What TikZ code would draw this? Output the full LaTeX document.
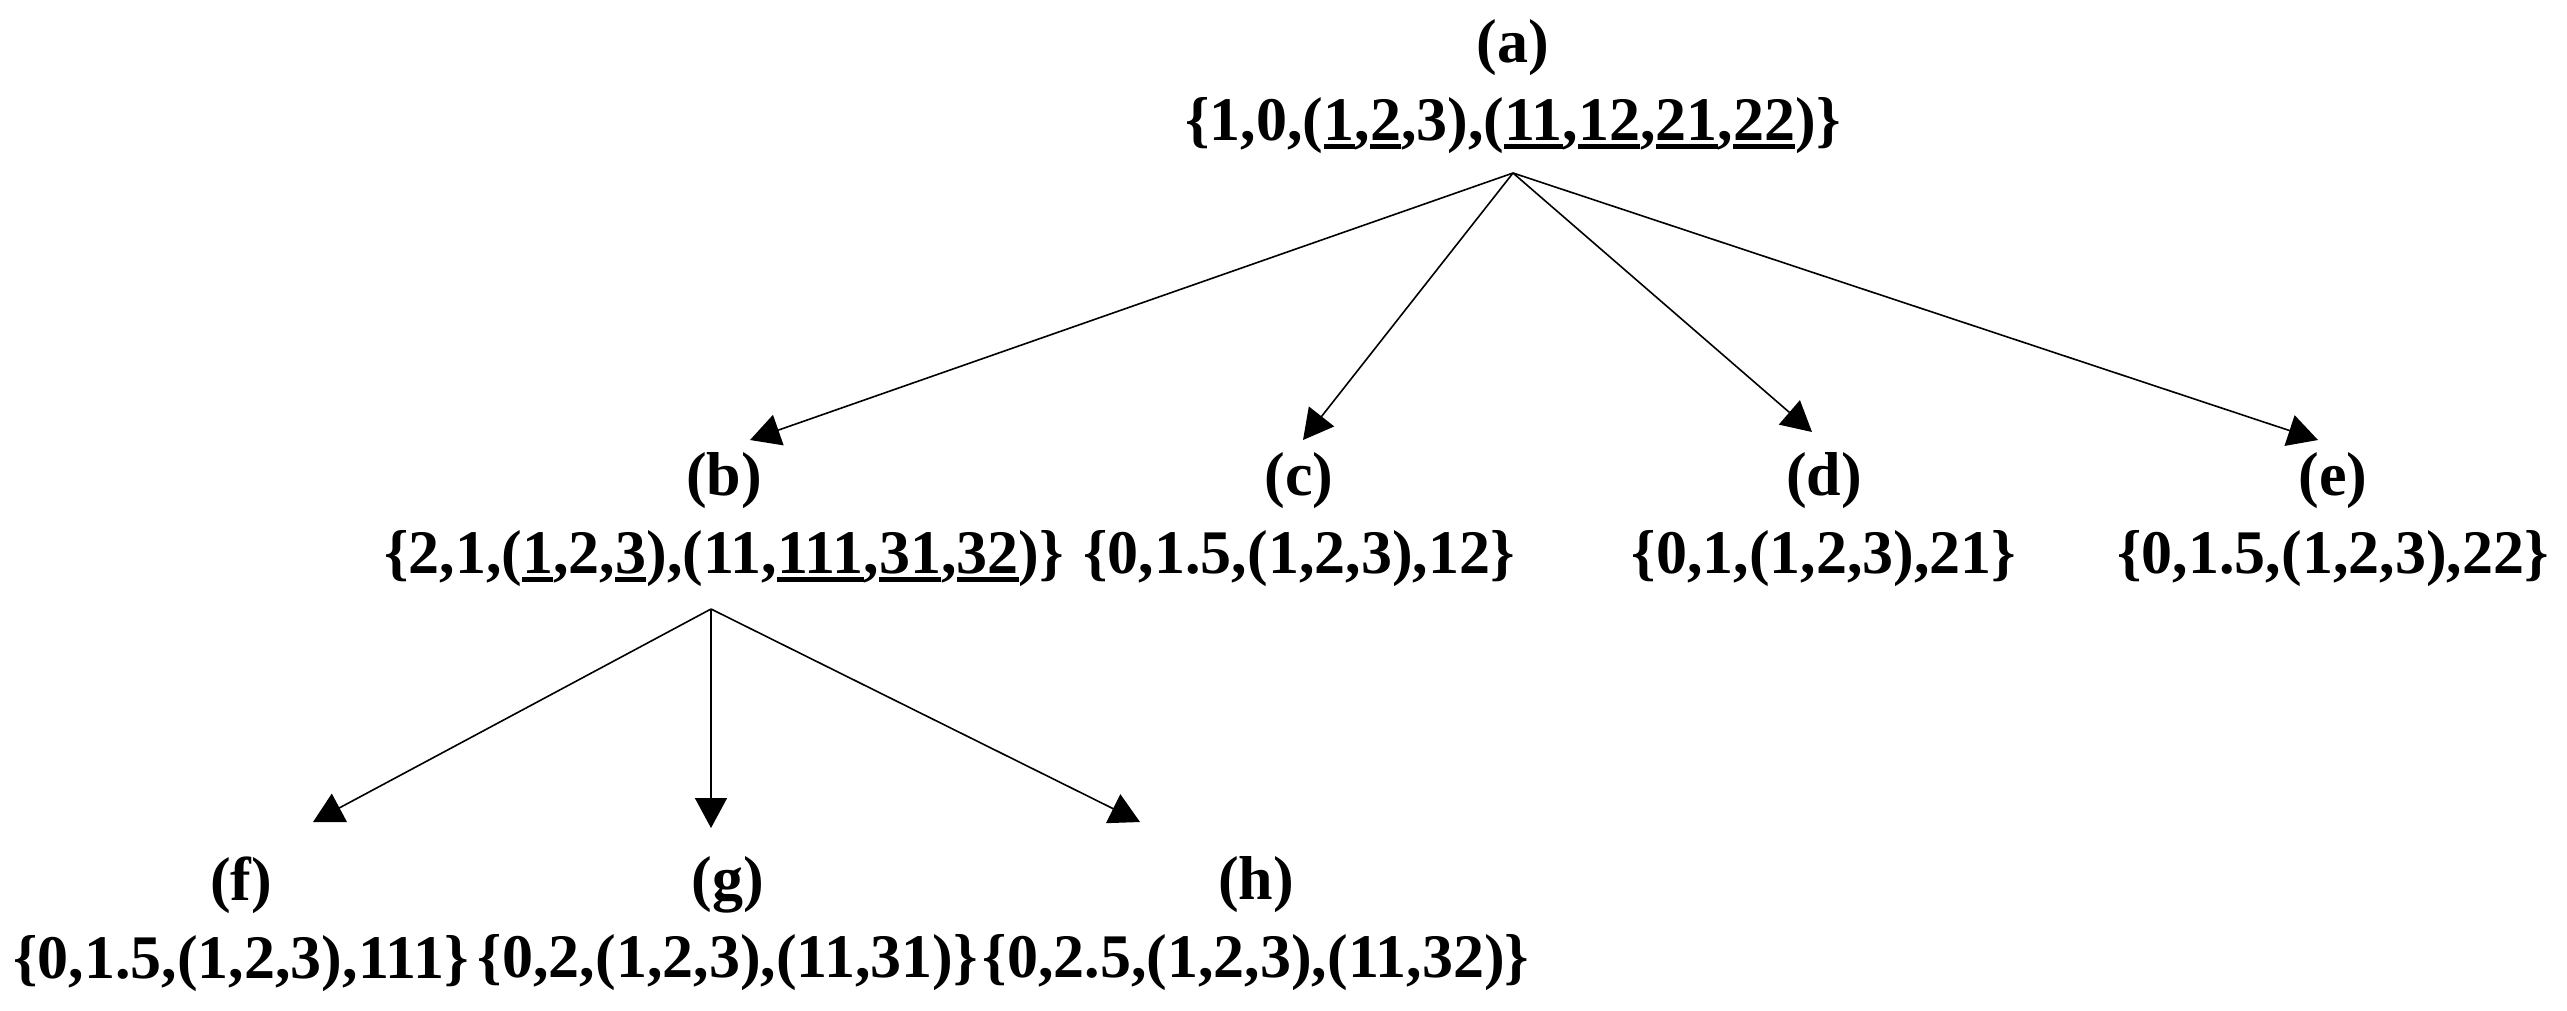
\documentclass[tikz,border=0pt]{standalone}
\usepackage{fontspec}
\setmainfont{Liberation Serif}
\usetikzlibrary{arrows.meta}
\newlength{\ulw}
\newcommand{\myul}[1]{\settowidth{\ulw}{#1}\leavevmode\rlap{\rule[-1.9pt]{\ulw}{1.2pt}}#1}
\tikzset{
  lab/.style={inner sep=0pt, align=center, font=\bfseries\fontsize{15.5}{19.5}\selectfont},
  conn/.style={line width=0.4pt, -{Triangle[length=7.5pt,width=8pt]}}
}
\begin{document}
\begin{tikzpicture}[x=0.25pt,y=-0.25pt]
\useasboundingbox (0,0) rectangle (2567,1010);
\node[lab] (a) at (1513,87) {(a)\\\{1,0,(\myul{1},\myul{2},3),(\myul{11},\myul{12},\myul{21},\myul{22})\}};
\node[lab] (b) at (724,520) {(b)\\\{2,1,(\myul{1},2,\myul{3}),(11,\myul{111},\myul{31},\myul{32})\}};
\node[lab] (c) at (1299,520) {(c)\\\{0,1.5,(1,2,3),12\}};
\node[lab] (d) at (1824,520) {(d)\\\{0,1,(1,2,3),21\}};
\node[lab] (e) at (2333,520) {(e)\\\{0,1.5,(1,2,3),22\}};
\node[lab] (f) at (241,924) {(f)\\\{0,1.5,(1,2,3),111\}};
\node[lab] (g) at (728,924) {(g)\\\{0,2,(1,2,3),(11,31)\}};
\node[lab] (h) at (1256,924) {(h)\\\{0,2.5,(1,2,3),(11,32)\}};
\coordinate (aout) at (1513,173);
\coordinate (bout) at (711,609);
\coordinate (bin) at (750,440);
\coordinate (cin) at (1303,440);
\coordinate (din) at (1812,432);
\coordinate (ein) at (2318,440);
\coordinate (fin) at (313,822);
\coordinate (gin) at (711,828);
\coordinate (hin) at (1140,822);
\draw[conn] (aout) -- (bin);
\draw[conn] (aout) -- (cin);
\draw[conn] (aout) -- (din);
\draw[conn] (aout) -- (ein);
\draw[conn] (bout) -- (fin);
\draw[conn] (bout) -- (gin);
\draw[conn] (bout) -- (hin);
\end{tikzpicture}
\end{document}
